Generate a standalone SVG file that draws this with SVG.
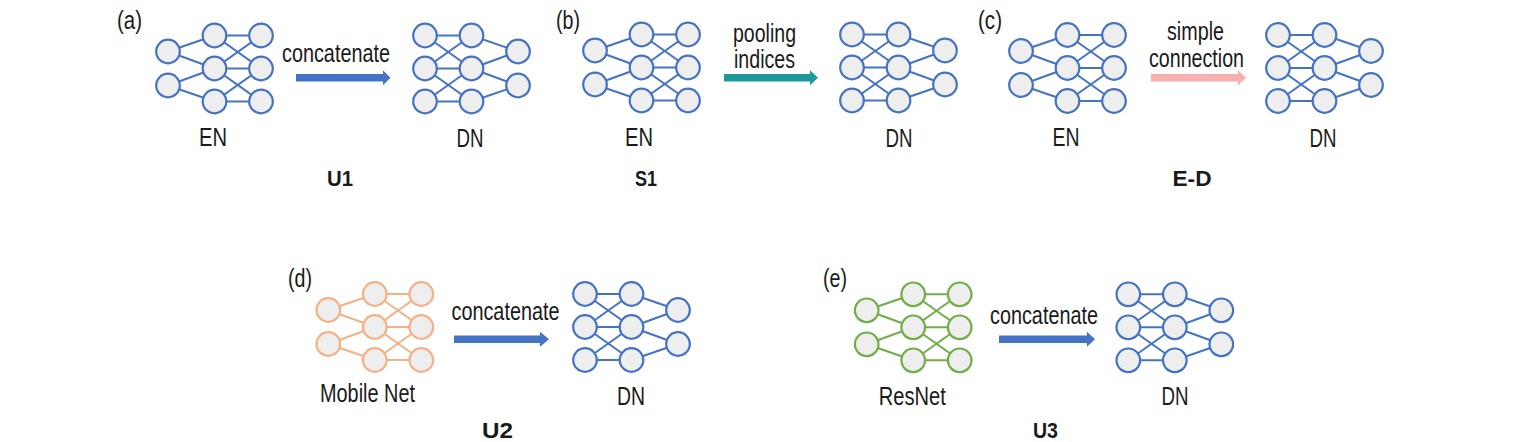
<svg xmlns="http://www.w3.org/2000/svg" xmlns:xlink="http://www.w3.org/1999/xlink" width="1516" height="442" viewBox="0 0 1516 442">
<style>
  text { font-family: "Liberation Sans", Arial, sans-serif; font-size: 25px; fill: #1a1a1a; }
  .mid { text-anchor: middle; }
  .b { font-weight: bold; font-size: 22px; }
  .net line { stroke: currentColor; stroke-width: 2; }
  .net circle { stroke: currentColor; stroke-width: 2.2; fill: #eeeeee; }
  .blue { color: #4472c4; }
  .orange { color: #f4b183; }
  .green { color: #70ad47; }
</style>
<defs>
  <g id="en" class="net">
    <line x1="0" y1="-17" x2="46.5" y2="-33"/>
    <line x1="0" y1="-17" x2="46.5" y2="0"/>
    <line x1="0" y1="17" x2="46.5" y2="0"/>
    <line x1="0" y1="17" x2="46.5" y2="33"/>
    <line x1="46.5" y1="-33" x2="93" y2="-33"/>
    <line x1="46.5" y1="0" x2="93" y2="0"/>
    <line x1="46.5" y1="33" x2="93" y2="33"/>
    <line x1="46.5" y1="-33" x2="93" y2="0"/>
    <line x1="46.5" y1="0" x2="93" y2="-33"/>
    <line x1="46.5" y1="0" x2="93" y2="33"/>
    <line x1="46.5" y1="33" x2="93" y2="0"/>
    <circle cx="0" cy="-17" r="11.8"/>
    <circle cx="0" cy="17" r="11.8"/>
    <circle cx="46.5" cy="-33" r="11.8"/>
    <circle cx="46.5" cy="0" r="11.8"/>
    <circle cx="46.5" cy="33" r="11.8"/>
    <circle cx="93" cy="-33" r="11.8"/>
    <circle cx="93" cy="0" r="11.8"/>
    <circle cx="93" cy="33" r="11.8"/>
  </g>
  <g id="dn" class="net">
    <line x1="0" y1="-33" x2="46.5" y2="-33"/>
    <line x1="0" y1="0" x2="46.5" y2="0"/>
    <line x1="0" y1="33" x2="46.5" y2="33"/>
    <line x1="0" y1="-33" x2="46.5" y2="0"/>
    <line x1="0" y1="0" x2="46.5" y2="-33"/>
    <line x1="0" y1="0" x2="46.5" y2="33"/>
    <line x1="0" y1="33" x2="46.5" y2="0"/>
    <line x1="46.5" y1="-33" x2="93" y2="-17"/>
    <line x1="46.5" y1="0" x2="93" y2="-17"/>
    <line x1="46.5" y1="0" x2="93" y2="17"/>
    <line x1="46.5" y1="33" x2="93" y2="17"/>
    <circle cx="0" cy="-33" r="11.8"/>
    <circle cx="0" cy="0" r="11.8"/>
    <circle cx="0" cy="33" r="11.8"/>
    <circle cx="46.5" cy="-33" r="11.8"/>
    <circle cx="46.5" cy="0" r="11.8"/>
    <circle cx="46.5" cy="33" r="11.8"/>
    <circle cx="93" cy="-17" r="11.8"/>
    <circle cx="93" cy="17" r="11.8"/>
  </g>
</defs>

<!-- Panel (a) -->
<text x="117" y="28.5" textLength="25" lengthAdjust="spacingAndGlyphs">(a)</text>
<g id="a-en" class="blue"><use xlink:href="#en" href="#en" x="168" y="68.5"/><text class="mid" x="213" y="146" textLength="28" lengthAdjust="spacingAndGlyphs">EN</text></g>
<g id="a-dn" class="blue"><use xlink:href="#dn" href="#dn" x="425" y="68.5"/><text class="mid" x="470" y="146.5" textLength="27" lengthAdjust="spacingAndGlyphs">DN</text></g>
<text class="mid" x="336" y="62" textLength="108" lengthAdjust="spacingAndGlyphs">concatenate</text>
<text class="mid b" x="340" y="185.5" textLength="26" lengthAdjust="spacingAndGlyphs">U1</text>

<!-- Panel (b) -->
<text x="556" y="28.5" textLength="24" lengthAdjust="spacingAndGlyphs">(b)</text>
<g id="b-en" class="blue"><use xlink:href="#en" href="#en" x="595" y="67.5"/><text class="mid" x="639" y="146" textLength="28" lengthAdjust="spacingAndGlyphs">EN</text></g>
<g id="b-dn" class="blue"><use xlink:href="#dn" href="#dn" x="852" y="67.5"/><text class="mid" x="899" y="146.5" textLength="27" lengthAdjust="spacingAndGlyphs">DN</text></g>
<text class="mid" x="764.5" y="41.5" textLength="63" lengthAdjust="spacingAndGlyphs">pooling</text>
<text class="mid" x="764.5" y="68" textLength="61" lengthAdjust="spacingAndGlyphs">indices</text>
<text class="mid b" x="646" y="185.5" textLength="22" lengthAdjust="spacingAndGlyphs">S1</text>

<!-- Panel (c) -->
<text x="978" y="28.5" textLength="24" lengthAdjust="spacingAndGlyphs">(c)</text>
<g id="c-en" class="blue"><use xlink:href="#en" href="#en" x="1021" y="68"/><text class="mid" x="1066" y="146" textLength="27" lengthAdjust="spacingAndGlyphs">EN</text></g>
<g id="c-dn" class="blue"><use xlink:href="#dn" href="#dn" x="1278" y="68"/><text class="mid" x="1323" y="146.5" textLength="27" lengthAdjust="spacingAndGlyphs">DN</text></g>
<text class="mid" x="1195.5" y="39.5" textLength="57" lengthAdjust="spacingAndGlyphs">simple</text>
<text class="mid" x="1196.5" y="66.5" textLength="95" lengthAdjust="spacingAndGlyphs">connection</text>
<text class="mid b" x="1192" y="185.5" textLength="39" lengthAdjust="spacingAndGlyphs">E-D</text>

<!-- Panel (d) -->
<text x="288" y="287" textLength="24" lengthAdjust="spacingAndGlyphs">(d)</text>
<g id="d-en" class="orange"><use xlink:href="#en" href="#en" x="328.3" y="327"/><text class="mid" x="367.5" y="402" textLength="95" lengthAdjust="spacingAndGlyphs">Mobile Net</text></g>
<g id="d-dn" class="blue"><use xlink:href="#dn" href="#dn" x="585" y="327"/><text class="mid" x="631" y="405" textLength="28" lengthAdjust="spacingAndGlyphs">DN</text></g>
<text class="mid" x="505.5" y="320" textLength="108" lengthAdjust="spacingAndGlyphs">concatenate</text>
<text class="mid b" x="497.5" y="437.5" textLength="31" lengthAdjust="spacingAndGlyphs">U2</text>

<!-- Panel (e) -->
<text x="823" y="287" textLength="24" lengthAdjust="spacingAndGlyphs">(e)</text>
<g id="e-en" class="green"><use xlink:href="#en" href="#en" x="866.7" y="327.3"/><text class="mid" x="912.3" y="405" textLength="67" lengthAdjust="spacingAndGlyphs">ResNet</text></g>
<g id="e-dn" class="blue"><use xlink:href="#dn" href="#dn" x="1128.3" y="327.3"/><text class="mid" x="1175" y="405" textLength="27" lengthAdjust="spacingAndGlyphs">DN</text></g>
<text class="mid" x="1044" y="324" textLength="108" lengthAdjust="spacingAndGlyphs">concatenate</text>
<text class="mid b" x="1045.5" y="437.5" textLength="25" lengthAdjust="spacingAndGlyphs">U3</text>

<!-- Connectors -->
<g id="connectors">
  <polygon fill="#4472c4" points="296,73.9 383,73.9 383,70.2 390.5,77.7 383,85.2 383,81.5 296,81.5"/>
  <polygon fill="#1e999b" points="724,73.9 810,73.9 810,70.2 818,77.7 810,85.2 810,81.5 724,81.5"/>
  <polygon fill="#f8afae" points="1151,73.9 1238,73.9 1238,70.2 1246,77.7 1238,85.2 1238,81.5 1151,81.5"/>
  <polygon fill="#4472c4" points="454,335.5 540,335.5 540,331.8 549,339.3 540,346.8 540,343.1 454,343.1"/>
  <polygon fill="#4472c4" points="999,335.5 1087,335.5 1087,331.8 1095,339.3 1087,346.8 1087,343.1 999,343.1"/>
</g>
</svg>
